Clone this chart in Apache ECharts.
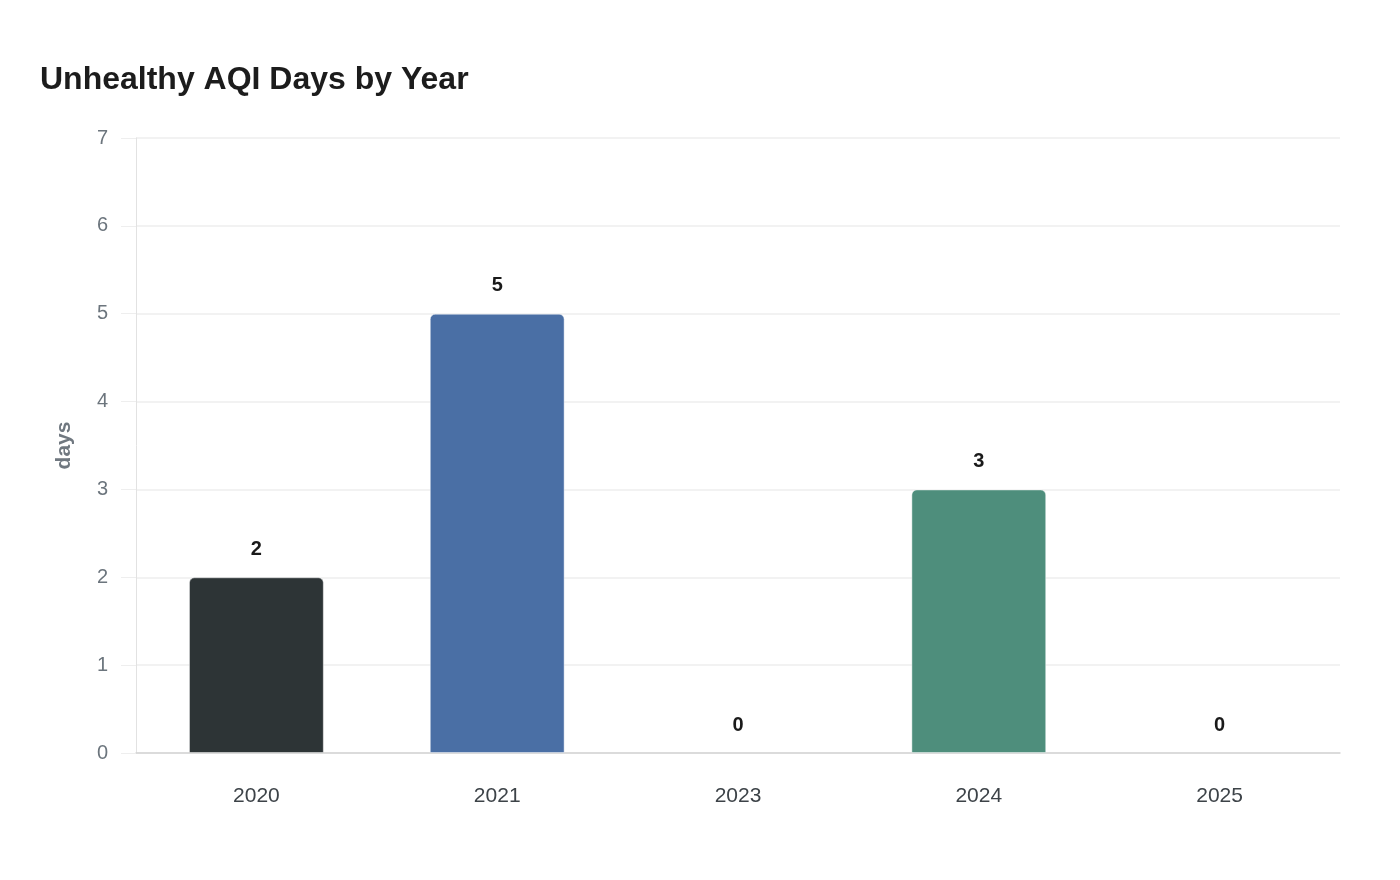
<!DOCTYPE html>
<html>
<head>
<meta charset="utf-8">
<script src="https://cdn.jsdelivr.net/npm/echarts@6/dist/echarts.min.js"></script>
<style>
html,body{margin:0;padding:0;background:#fff;}
#c{width:1400px;height:880px;}
</style>
</head>
<body>
<div id="c"></div>
<script>
const categories = ['2020', '2021', '2023', '2024', '2025'];
const values = [2, 5, 0, 3, 0];
const barColors = ['#2d3436', '#4a6fa5', '#7f8c8d', '#4e8e7c', '#95a5a6'];
const yTicks = [0, 1, 2, 3, 4, 5, 6, 7];

const chart = echarts.init(document.getElementById('c'));
const FONT = '"Liberation Sans", Arial, Helvetica, sans-serif';
chart.setOption({
  backgroundColor: '#ffffff',
  animation: false,
  title: {
    text: 'Unhealthy AQI Days by Year',
    left: 40, top: 64, padding: 0,
    textStyle: { fontFamily: FONT, fontSize: 32, fontWeight: 'bold', color: '#1c1c1c' }
  },
  grid: { left: 136, right: 60, top: 138, bottom: 127, containLabel: false },
  xAxis: {
    type: 'category',
    data: categories,
    axisLine: { lineStyle: { color: '#d4d4d4', width: 1.5 } },
    axisTick: { show: false },
    axisLabel: { margin: 33, fontFamily: FONT, fontSize: 21, color: '#3d4348' }
  },
  yAxis: {
    type: 'value',
    min: yTicks[0], max: yTicks[yTicks.length - 1], interval: 1,
    name: 'days',
    nameLocation: 'middle',
    nameGap: 61,
    nameTextStyle: { fontFamily: FONT, fontSize: 21, fontWeight: 'bold', color: '#707880' },
    axisLine: { show: true, lineStyle: { color: '#e2e2e2', width: 1 } },
    axisTick: { show: true, length: 15, lineStyle: { color: '#eeeeee' } },
    axisLabel: { margin: 28, fontFamily: FONT, fontSize: 20, color: '#6c757d' },
    splitLine: { lineStyle: { color: '#eeeeee', width: 1.5 } }
  },
  series: [{
    type: 'bar',
    barWidth: '56%',
    data: values.map((v, i) => ({
      value: v,
      itemStyle: {
        color: barColors[i],
        borderWidth: v > 0 ? 1 : 0,
        borderColor: 'rgba(255,255,255,0.45)'
      }
    })),
    itemStyle: { borderRadius: [5, 5, 0, 0] },
    label: {
      show: true, position: 'top', distance: 18,
      fontFamily: FONT, fontSize: 20, fontWeight: 'bold', color: '#1a1a1a'
    }
  }]
});
</script>
</body>
</html>
